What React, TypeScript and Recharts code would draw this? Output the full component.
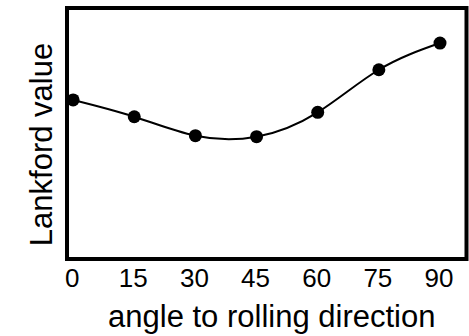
import React from 'react';
import { LineChart, Line, XAxis, YAxis, ReferenceArea } from 'recharts';

const angles = [0, 15, 30, 45, 60, 75, 90];
const lankford = [1.584, 1.417, 1.228, 1.218, 1.461, 1.885, 2.151];
const xTicks = [0, 15, 30, 45, 60, 75, 90];
const xDomain = [-1.5, 96.5];
const yDomain = [0, 2.5];
const xLabel = 'angle to rolling direction';
const yLabel = 'Lankford value';

const data = angles.map((a, i) => ({ angle: a, r: lankford[i] }));

const FONT = '"Liberation Sans", Arial, Helvetica, sans-serif';

const Tick = (props: any) => {
  const { x, y, payload } = props;
  return (
    <text x={x - 1} y={y + 28} textAnchor="middle" fontSize={26} fontFamily={FONT} fill="#000">
      {payload.value}
    </text>
  );
};

const XLab = (props: any) => {
  const vb = props.viewBox;
  return (
    <text x={vb.x + vb.width / 2 + 5} y={327} textAnchor="middle" fontSize={31} fontFamily={FONT} fill="#000">
      {xLabel}
    </text>
  );
};

const YLab = (props: any) => {
  const vb = props.viewBox;
  const cx = 52;
  const cy = vb.y + vb.height / 2 + 11;
  return (
    <text x={cx} y={cy} transform={`rotate(-90, ${cx}, ${cy})`} textAnchor="middle" fontSize={31} fontFamily={FONT} fill="#000">
      {yLabel}
    </text>
  );
};

export default function App() {
  return (
    <div style={{ position: 'absolute', left: 0, top: 0, background: '#fff' }}>
      <LineChart width={469} height={336} data={data} margin={{ top: 8, right: 2.5, bottom: 0, left: 0 }}>
        <XAxis
          dataKey="angle"
          type="number"
          domain={xDomain}
          ticks={xTicks}
          allowDataOverflow
          axisLine={false}
          tickLine={false}
          tickSize={0}
          tickMargin={0}
          height={77}
          tick={<Tick />}
          interval={0}
          label={<XLab />}
        />
        <YAxis
          type="number"
          domain={yDomain}
          allowDataOverflow
          width={67}
          tick={false}
          axisLine={false}
          tickLine={false}
          label={<YLab />}
        />
        <ReferenceArea
          x1={xDomain[0]}
          x2={xDomain[1]}
          y1={yDomain[0]}
          y2={yDomain[1]}
          fill="none"
          fillOpacity={0}
          stroke="#000"
          strokeWidth={4}
          ifOverflow="visible"
        />
        <Line
          type="natural"
          dataKey="r"
          stroke="#000"
          strokeWidth={2}
          dot={{ r: 6.5, fill: '#000', stroke: 'none' }}
          isAnimationActive={false}
        />
      </LineChart>
    </div>
  );
}
